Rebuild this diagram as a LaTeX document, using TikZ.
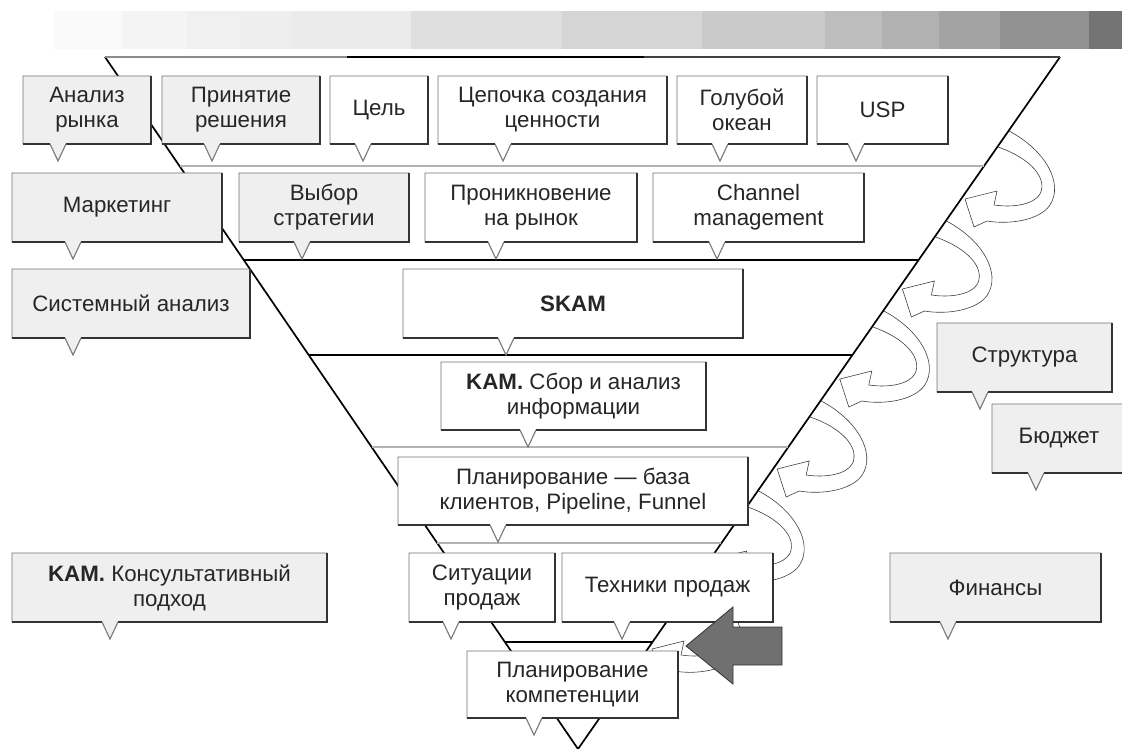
\documentclass[tikz,border=0pt]{standalone}
\usepackage{fontspec}
\setmainfont{Liberation Sans}
\usetikzlibrary{calc}
\definecolor{boxgray}{HTML}{EFEFEF}
\definecolor{ga}{HTML}{FAFAFA}
\definecolor{gb}{HTML}{F4F4F4}
\definecolor{gc}{HTML}{F0F0F0}
\definecolor{gd}{HTML}{EEEEEE}
\definecolor{ge}{HTML}{EBEBEB}
\definecolor{gf}{HTML}{DFDFDF}
\definecolor{gg}{HTML}{D5D5D5}
\definecolor{gh}{HTML}{CACACA}
\definecolor{gi}{HTML}{BDBDBD}
\definecolor{gj}{HTML}{B1B1B1}
\definecolor{gk}{HTML}{A3A3A3}
\definecolor{gl}{HTML}{929292}
\definecolor{gm}{HTML}{747474}
\tikzset{
  lbl/.style={align=center, font=\fontsize{22.3}{25}\selectfont, text=black!85, inner sep=0pt},
  boxline/.style={draw=black!55, line width=0.9pt},
  boxbottom/.style={draw=black!80, line width=1.2pt},
  tipline/.style={draw=black!50, line width=0.8pt},
  tredge/.style={line width=1.7pt, black},
  darklevel/.style={line width=1.1pt, black},
  lightlevel/.style={line width=1.1pt, black!30},
  loopline/.style={draw=black!75, line width=0.6pt},
  bigarrow/.style={fill=black!56, draw=black!80, line width=0.8pt},
}
% #1 name #2 x1 #3 y1 #4 x2 #5 y2 #6 pointer x #7 fill #8 text
\newcommand\calloutbox[8]{%
  \draw[boxline, fill=#7] (#2,#3) -- (#4,#3) -- (#4,#5) -- ({#6+8},#5) -- (#6,{#5+17}) -- ({#6-8},#5) -- (#2,#5) -- cycle;
  \draw[boxbottom] (#2,#5) -- ({#6-8},#5) ({#6+8},#5) -- (#4,#5) -- (#4,#3);
  \draw[tipline] ({#6-8},#5) -- (#6,{#5+17}) -- ({#6+8},#5);
  \node[lbl] (#1) at ({(#2+#4)/2},{(#3+#5)/2}) {#8};
}
\newcommand\levelline[2]{%
  \draw[#2] ($(tl)!{(#1-57)/692}!(ap)$) -- ($(tr)!{(#1-57)/692}!(ap)$);
}
\begin{document}
\begin{tikzpicture}[x=1pt,y=-1pt]
\useasboundingbox (0,0) rectangle (1122,749);
\fill[white] (0,0) rectangle (1122,749);
% gradient bar
\foreach \a/\b/\c in {54/122/ga,122/187/gb,187/240/gc,240/292/gd,292/411/ge,411/562/gf,562/702/gg,702/825/gh,825/882/gi,882/939/gj,939/1000/gk,1000/1089/gl,1089/1122/gm}
  \fill[\c] (\a,11) rectangle (\b,49);
% funnel
\coordinate (tl) at (105,57);
\coordinate (tr) at (1060,57);
\coordinate (ap) at (578,749);
\coordinate (t1) at (347,57);
\coordinate (t2) at (644,57);
\draw[tredge] (tl) -- (ap) -- (tr);
\draw[line width=1.6pt, black!45] (tl) -- (t1);
\draw[line width=1.8pt, black] (t1) -- (t2);
\draw[line width=1.6pt, black!75] (t2) -- (tr);
\levelline{166}{lightlevel}
\levelline{260}{darklevel}
\levelline{355}{darklevel}
\levelline{447}{lightlevel}
\levelline{543}{lightlevel}
\levelline{642}{darklevel}
% loop arrows
\foreach \k in {0,...,5}{
  \begin{scope}[shift={({-62.6*\k},{90*\k})}]
    \draw[loopline] (1009,131) .. controls (1045,150) and (1064,183) .. (1050,205)
      .. controls (1040,220) and (1010,225) .. (987,221) -- (974,227) -- (965,199) -- (997,191) -- (994,205)
      .. controls (1015,208) and (1034,204) .. (1040,194)
      .. controls (1048,178) and (1030,158) .. (998,147);
  \end{scope}
}
% row 1
\calloutbox{analiz}{23}{76}{151}{144}{58}{boxgray}{Анализ\\рынка}
\calloutbox{prinyatie}{162}{76}{320}{144}{212}{boxgray}{Принятие\\решения}
\calloutbox{cel}{330}{76}{428}{144}{363}{white}{Цель}
\calloutbox{cepochka}{438}{76}{667}{144}{503}{white}{Цепочка создания\\ценности}
\calloutbox{okean}{677}{76}{807}{144}{720}{white}{Голубой\\океан}
\calloutbox{usp}{817}{76}{948}{144}{856}{white}{USP}
% row 2
\calloutbox{marketing}{12}{173}{222}{242}{73}{boxgray}{Маркетинг}
\calloutbox{vybor}{239}{173}{409}{242}{302}{boxgray}{Выбор\\стратегии}
\calloutbox{proniknovenie}{425}{173}{637}{242}{496}{white}{Проникновение\\на рынок}
\calloutbox{channel}{653}{173}{864}{242}{717}{white}{Channel\\management}
% row 3
\calloutbox{sistemny}{12}{269}{250}{338}{73}{boxgray}{Системный анализ}
\calloutbox{skam}{403}{269}{743}{338}{506}{white}{\textbf{SKAM}}
\calloutbox{struktura}{937}{323}{1112}{392}{980}{boxgray}{Структура}
% row 4
\calloutbox{kamsbor}{441}{362}{706}{430}{528}{white}{\textbf{KAM.} Сбор и анализ\\информации}
\calloutbox{budzhet}{992}{404}{1126}{473}{1036}{boxgray}{Бюджет}
% row 5
\calloutbox{planbaza}{398}{457}{748}{525}{498}{white}{Планирование — база\\клиентов, Pipeline, Funnel}
% row 6
\calloutbox{kamkons}{12}{553}{327}{622}{110}{boxgray}{\textbf{KAM.} Консультативный\\подход}
\calloutbox{situacii}{409}{553}{555}{622}{451}{white}{Ситуации\\продаж}
\calloutbox{tehniki}{562}{553}{773}{622}{622}{white}{Техники продаж}
\calloutbox{finansy}{890}{553}{1101}{622}{948}{boxgray}{Финансы}
% row 7
\calloutbox{plankomp}{467}{651}{678}{718}{534}{white}{Планирование\\компетенции}
% big arrow
\draw[bigarrow] (686,646) -- (733,607) -- (733,627) -- (782,627) -- (782,665) -- (733,665) -- (733,684) -- cycle;
\end{tikzpicture}
\end{document}
